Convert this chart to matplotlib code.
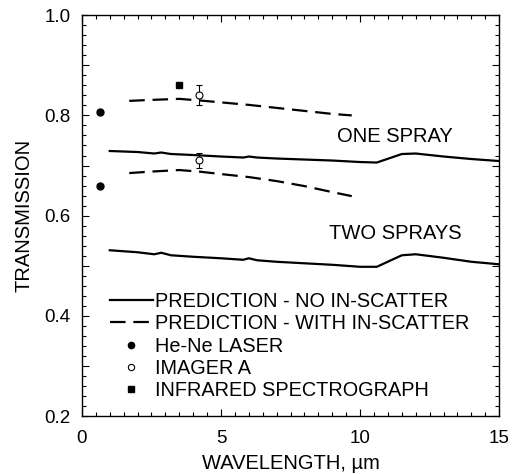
import matplotlib.pyplot as plt
import numpy as np
from matplotlib.lines import Line2D
from matplotlib.ticker import MultipleLocator

plt.rcParams['font.family'] = ['Liberation Sans', 'DejaVu Sans']

# predictions, no in-scatter
wl_pred = [1.0, 2.0, 2.6, 2.85, 3.2, 4.0, 5.0, 5.8, 6.0, 6.3, 7.0, 8.0, 9.0, 10.0, 10.6, 11.5, 12.0, 13.0, 14.0, 15.0]
one_spray = [0.729, 0.727, 0.724, 0.726, 0.723, 0.721, 0.718, 0.716, 0.718, 0.716, 0.714, 0.712, 0.710, 0.707, 0.706, 0.723, 0.724, 0.718, 0.713, 0.709]
two_spray = [0.531, 0.527, 0.523, 0.526, 0.521, 0.518, 0.515, 0.512, 0.515, 0.511, 0.508, 0.505, 0.502, 0.498, 0.498, 0.521, 0.523, 0.516, 0.508, 0.503]

# predictions, with in-scatter
wl_scat = [1.7, 2.5, 3.5, 4.2, 5.0, 6.0, 7.0, 8.0, 9.0, 9.7]
one_scat = [0.829, 0.831, 0.833, 0.830, 0.826, 0.821, 0.815, 0.809, 0.803, 0.800]
two_scat = [0.685, 0.688, 0.691, 0.688, 0.683, 0.677, 0.669, 0.659, 0.647, 0.639]

# measurements
hene_wl = [0.633, 0.633]
hene_t = [0.806, 0.659]
imager_wl = [4.2, 4.2]
imager_t = [0.840, 0.711]
imager_err = [0.02, 0.015]
ir_wl = [3.5]
ir_t = [0.860]

legend_labels = ['PREDICTION - NO IN-SCATTER', 'PREDICTION - WITH IN-SCATTER',
                 'He-Ne LASER', 'IMAGER A', 'INFRARED SPECTROGRAPH']

fig = plt.figure(figsize=(5.12, 4.74), dpi=100)
ax = fig.add_axes([0.160, 0.122, 0.815, 0.846])

l1, = ax.plot(wl_pred, one_spray, color='black', lw=1.6)
ax.plot(wl_pred, two_spray, color='black', lw=1.6)
l2, = ax.plot(wl_scat, one_scat, color='black', lw=1.6, dashes=(7, 3.5))
ax.plot(wl_scat, two_scat, color='black', lw=1.6, dashes=(7, 3.5))
ax.plot(hene_wl, hene_t, 'o', color='black', ms=5)
ax.errorbar(imager_wl, imager_t, yerr=imager_err, fmt='o', mfc='white', mec='black', ms=5,
            mew=0.8, ecolor='black', elinewidth=0.8, capsize=2.5, capthick=0.8)
ax.plot(ir_wl, ir_t, 's', color='black', ms=5)

h3 = Line2D([], [], ls='none', marker='o', color='black', ms=4.5)
h4 = Line2D([], [], ls='none', marker='o', mfc='white', mec='black', mew=0.8, ms=4.5)
h5 = Line2D([], [], ls='none', marker='s', color='black', ms=4.5)

ax.text(11.25, 0.757, 'ONE SPRAY', fontsize=14.5, ha='center', va='center')
ax.text(11.25, 0.565, 'TWO SPRAYS', fontsize=14.5, ha='center', va='center')

ax.set_xlim(0, 15)
ax.set_ylim(0.2, 1.0)
ax.xaxis.set_major_locator(MultipleLocator(5))
ax.xaxis.set_minor_locator(MultipleLocator(0.5))
ax.yaxis.set_minor_locator(MultipleLocator(0.02))
yt = np.arange(0.2, 1.01, 0.1)
ax.set_yticks(yt)
ax.set_yticklabels([f'{v:.1f}' if round(v * 10) % 2 == 0 else '' for v in yt])
ax.tick_params(which='both', direction='in', top=True, right=True, labelsize=13.5, width=0.8)
ax.tick_params(which='major', length=5)
ax.tick_params(which='minor', length=3)
ax.tick_params(axis='x', which='major', pad=10)
ax.tick_params(axis='y', which='major', pad=8)
for s in ax.spines.values():
    s.set_linewidth(1.0)

ax.set_xlabel('WAVELENGTH, µm', fontsize=14.5, labelpad=5)
ax.set_ylabel('TRANSMISSION', fontsize=14.5, labelpad=8)

ax.legend([l1, l2, h3, h4, h5], legend_labels, loc='upper left', bbox_to_anchor=(0.067, 0.31),
          frameon=False, fontsize=14.3, handlelength=2.15, handletextpad=0.1, labelspacing=0.17,
          borderpad=0, borderaxespad=0)

fig.savefig('out.png', dpi=100)
